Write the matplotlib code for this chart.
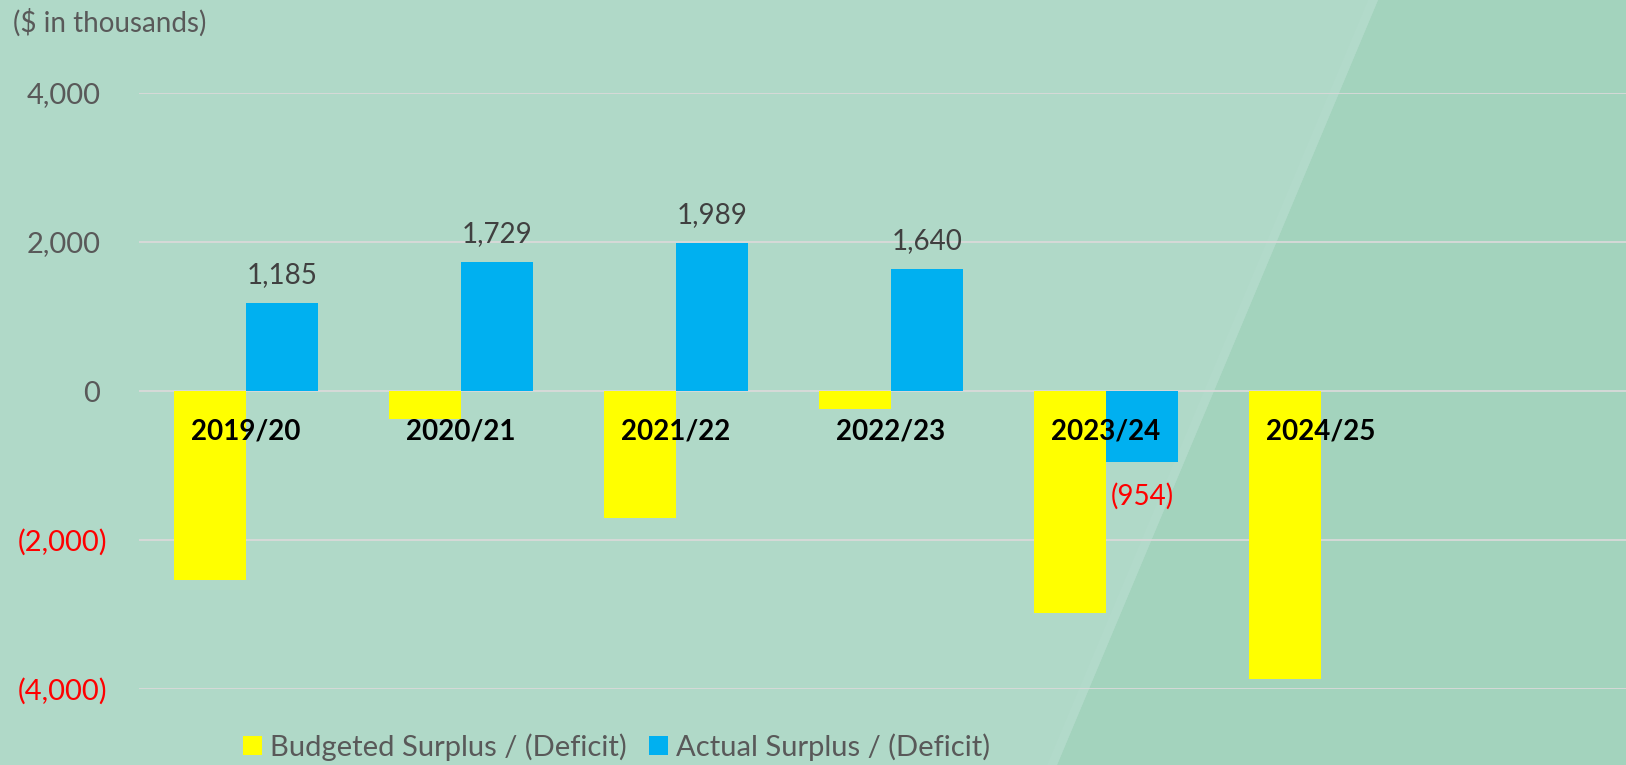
import matplotlib
matplotlib.use("Agg")
import matplotlib.pyplot as plt
from matplotlib.patches import Polygon, Patch
from matplotlib.transforms import ScaledTranslation
import numpy as np

categories = ["2019/20", "2020/21", "2021/22", "2022/23", "2023/24", "2024/25"]
budgeted = [-2540, -370, -1705, -240, -2980, -3866]
actual = [1185, 1729, 1989, 1640, -954, None]
series_names = ["Budgeted Surplus / (Deficit)", "Actual Surplus / (Deficit)"]
yticks = [-4000, -2000, 0, 2000, 4000]

YELLOW = "#FFFF00"
BLUE = "#00B0F0"
BG_LIGHT = "#B0D9C8"
BG_DARK = "#A3D3BD"
GRID = "#D9D9D9"
GRAY = "#595959"
VALGRAY = "#404040"
RED = "#FF0000"

plt.rcParams["font.family"] = ["Lato", "DejaVu Sans"]

W, H, DPI = 1626, 765, 100
fig = plt.figure(figsize=(W / DPI, H / DPI), dpi=DPI, facecolor=BG_LIGHT)

# background diagonal darker region
fig.patches.append(Polygon([(1378 / W, 1), (1, 1), (1, 0), (1057 / W, 0)], closed=True,
                           transform=fig.transFigure, facecolor=BG_DARK, edgecolor="none", zorder=-10))
fig.patches.append(Polygon([(1368 / W, 1), (1378 / W, 1), (1057 / W, 0), (1047 / W, 0)], closed=True,
                           transform=fig.transFigure, facecolor="#B2DACA", edgecolor="none", zorder=-9))

left_px, right_px = 138.5, W
top_px, bot_px = 93, 689
ax = fig.add_axes([left_px / W, (H - bot_px) / H, (right_px - left_px) / W, (bot_px - top_px) / H])
ax.set_facecolor("none")

x = np.arange(len(categories))
cat_w = 215.0
bw = 72.0 / cat_w
ax.set_xlim(-0.5, -0.5 + (right_px - left_px) / cat_w)
ax.set_ylim(-4000, 4000)

ax.bar(x - bw / 2, budgeted, width=bw, color=YELLOW, zorder=2)
act_vals = [np.nan if v is None else v for v in actual]
ax.bar(x + bw / 2, act_vals, width=bw, color=BLUE, zorder=2)

# grid
ax.set_yticks(yticks)
ax.yaxis.grid(True, color=GRID, linewidth=1.3)
ax.set_axisbelow(True)
ax.set_xticks([])
for s in ax.spines.values():
    s.set_visible(False)
ax.tick_params(axis="y", length=0, pad=27.5)

def fmt(v):
    if v < 0:
        return "({:,.0f})".format(-v)
    return "{:,.0f}".format(v)

ax.set_yticklabels([fmt(v) for v in yticks])
for lab, v in zip(ax.get_yticklabels(), yticks):
    lab.set_fontsize(21)
    if v < 0:
        lab.set_color(RED)
        lab.set_transform(lab.get_transform() + ScaledTranslation(7 / DPI, 0, fig.dpi_scale_trans))
    else:
        lab.set_color(GRAY)

# value labels for actual
for xi, v in zip(x, actual):
    if v is None:
        continue
    if v >= 0:
        ax.annotate(fmt(v), (xi + bw / 2, v), xytext=(0, 20), textcoords="offset points",
                    ha="center", va="center", fontsize=20, color=VALGRAY, zorder=5)
    else:
        ax.annotate(fmt(v), (xi + bw / 2, v), xytext=(0, -25), textcoords="offset points",
                    ha="center", va="center", fontsize=20, color=RED, zorder=5)

# category labels below zero line
for xi, c in zip(x, categories):
    ax.annotate(c, (xi, 0), xytext=(0, -29), textcoords="offset points",
                ha="center", va="center", fontsize=20, fontweight="bold", color="black", zorder=6)

fig.text(13 / W, 1 - 23 / H, "($ in thousands)", fontsize=20, color=GRAY, ha="left", va="center")

handles = [Patch(facecolor=YELLOW, edgecolor="none"), Patch(facecolor=BLUE, edgecolor="none")]
leg = fig.legend(handles, series_names, loc="center left", bbox_to_anchor=(243 / W, 1 - 747 / H),
                 ncol=2, frameon=False, fontsize=21, handlelength=0.64, handleheight=0.64,
                 handletextpad=0.3, columnspacing=0.75, borderpad=0, borderaxespad=0)
for t in leg.get_texts():
    t.set_color(GRAY)

fig.savefig("out.png", dpi=DPI, facecolor=BG_LIGHT)
